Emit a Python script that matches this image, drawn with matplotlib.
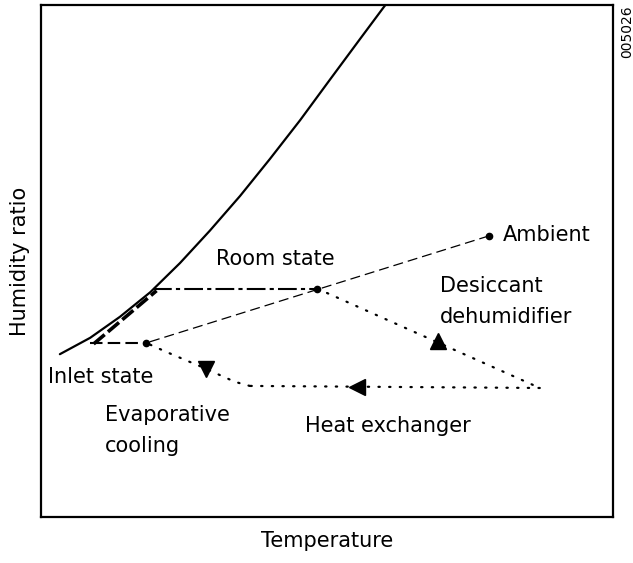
import numpy as np
import matplotlib
matplotlib.use("Agg")
import matplotlib.pyplot as plt

plt.rcParams['font.family'] = ['DejaVu Sans']

# saturation curve (temperature, humidity ratio), arbitrary units 0-100
sat_t = [3.3, 8.6, 13.8, 19.1, 24.3, 29.5, 34.8, 40.0, 45.3, 50.5, 55.8, 59.8, 61.9]
sat_w = [31.8, 35.0, 39.1, 43.9, 49.6, 55.9, 62.7, 69.9, 77.5, 85.4, 93.4, 99.4, 102.5]

# state points
ambient = (78.3, 54.9)
room = (48.3, 44.6)
inlet = (18.4, 34.0)
room_sat = (19.6, 44.6)
inlet_sat = (8.6, 34.0)
desiccant_end = (87.2, 25.2)

# evaporative cooling path (from heat exchanger back to inlet state)
evap_t = [36.5, 33.9, 31.3, 29.0, 26.0, 22.0, 18.4]
evap_w = [25.6, 26.4, 27.7, 28.9, 30.3, 32.2, 34.0]

fig = plt.figure(figsize=(6.33, 5.63), dpi=100)
ax = fig.add_axes([41 / 633, 46 / 563, 572 / 633, 512 / 563])
ax.set_xlim(0, 100)
ax.set_ylim(0, 100)
ax.set_xticks([])
ax.set_yticks([])
for s in ax.spines.values():
    s.set_linewidth(1.6)

ax.plot(sat_t, sat_w, color="k", lw=1.6, solid_capstyle="round",
        solid_joinstyle="round")

# thick dashes hugging the saturation curve between the two saturated states
ax.plot([inlet_sat[0] + 0.6, room_sat[0] + 0.6], [inlet_sat[1] - 0.2, room_sat[1] - 0.4],
        color="k", lw=2.6, ls=(0, (4, 1.2)))

# ambient -> room -> inlet mixing line
ax.plot([ambient[0], inlet[0]], [ambient[1], inlet[1]], color="k", lw=0.9, ls=(0, (8, 4)))
# room state horizontal
ax.plot([room_sat[0], room[0]], [room_sat[1], room[1]], color="k", lw=1.5,
        ls=(0, (9, 2, 2, 2)))
# inlet horizontal
ax.plot([inlet_sat[0], inlet[0]], [inlet_sat[1], inlet[1]], color="k", lw=1.5,
        ls=(0, (6, 2.5)))

dot = dict(color="k", lw=1.6, ls=(0, (0.6, 4.2)), dash_capstyle="round")
# desiccant dehumidifier
ax.plot([room[0], desiccant_end[0]], [room[1], desiccant_end[1]], **dot)
# heat exchanger
ax.plot([desiccant_end[0], evap_t[0]], [desiccant_end[1], evap_w[0]], **dot)
# evaporative cooling
ax.plot(evap_t, evap_w, **dot)

# arrowheads
ax.plot(69.4, 34.4, marker="^", ms=11, color="k", mec="k")
ax.plot(55.2, 25.4, marker="<", ms=11, color="k", mec="k")
ax.plot(28.8, 28.9, marker="v", ms=11, color="k", mec="k")

# state dots
for p in (ambient, room, inlet):
    ax.plot(*p, "o", color="k", ms=4.5)

fs = 15
ax.text(80.8, 53.9, "Ambient", fontsize=fs, va="baseline")
ax.text(30.6, 49.2, "Room state", fontsize=fs, va="baseline")
ax.text(69.8, 43.9, "Desiccant", fontsize=fs, va="baseline")
ax.text(69.8, 37.9, "dehumidifier", fontsize=fs, va="baseline")
ax.text(1.2, 26.2, "Inlet state", fontsize=fs, va="baseline")
ax.text(11.2, 18.8, "Evaporative", fontsize=fs, va="baseline")
ax.text(11.2, 12.7, "cooling", fontsize=fs, va="baseline")
ax.text(46.2, 16.6, "Heat exchanger", fontsize=fs, va="baseline")

ax.set_xlabel("Temperature", fontsize=fs, labelpad=10)
ax.set_ylabel("Humidity ratio", fontsize=fs, labelpad=8)

fig.text(627 / 633, 1 - 32 / 563, "005026", rotation=90, fontsize=10,
         ha="center", va="center")

fig.savefig("out.png", dpi=100)
